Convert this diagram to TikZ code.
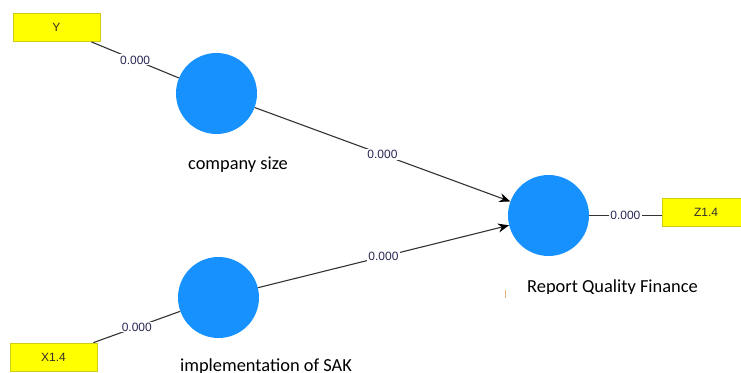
\documentclass[tikz,border=0pt]{standalone}
\usepackage{fontspec}
\setmainfont{Liberation Sans}
\newfontfamily\capfont{Carlito}
\usetikzlibrary{arrows.meta}
\definecolor{latblue}{RGB}{22,145,254}
\definecolor{boxyellow}{RGB}{255,255,0}
\definecolor{boxborder}{RGB}{205,205,20}
\definecolor{linegray}{RGB}{50,50,50}
\definecolor{labelnavy}{RGB}{40,40,85}
\definecolor{tickorange}{RGB}{225,175,120}
\tikzset{
  latent/.style={circle, fill=latblue, draw=none, minimum size=81pt, inner sep=0pt},
  indbox/.style={rectangle, fill=boxyellow, draw=boxborder, line width=0.8pt, minimum width=87pt, minimum height=28pt, inner sep=0pt, font=\fontsize{12}{14}\selectfont, text=black!85!olive},
  caption/.style={font=\capfont\fontsize{18.4}{20}\selectfont, text=black, anchor=base, inner sep=0pt},
  conn/.style={draw=linegray, line width=1.1pt},
  path/.style={conn, -{Stealth[length=11pt,width=9pt,color=black]}},
  coef/.style={fill=white, inner sep=1.2pt, font=\fontsize{12}{14}\selectfont, text=labelnavy, pos=0.5}
}
\begin{document}
\begin{tikzpicture}[x=1pt,y=-1pt]
\useasboundingbox (0,0) rectangle (741,372);
% latent variables
\node[latent] (cs) at (216.5,93.5) {};
\node[latent] (sak) at (218.5,297.5) {};
\node[latent] (rqf) at (548.5,215.5) {};
% indicators
\node[indbox] (y) at (56.5,27.5) {Y};
\node[indbox] (x) at (53.5,357) {X1.4};
\node[indbox, minimum width=88pt] (z) at (706,212.5) {Z1.4};
% captions
\node[caption] (cscap) at (238,169) {company size};
\node[caption] (sakcap) at (266,371) {implementation of SAK};
\begin{scope}
\clip (480,260) rectangle (741,293.5);
\node[caption] (rqfcap) at (612.5,292) {Report Quality Finance};
\end{scope}
% cursor tick
\coordinate (t1) at (505,290);
\coordinate (t2) at (505,298);
\draw[tickorange, line width=1pt] (t1) -- (t2);
% connectors
\draw[conn] (y) -- node[coef] {0.000} (cs);
\draw[conn] (x) -- node[coef] {0.000} (sak);
\draw[path] (cs) -- node[coef] {0.000} (rqf);
\draw[path] (sak) -- node[coef] {0.000} (rqf);
\draw[conn] (rqf.east) -- node[coef] {0.000} (z.west |- rqf.east);
\end{tikzpicture}
\end{document}
